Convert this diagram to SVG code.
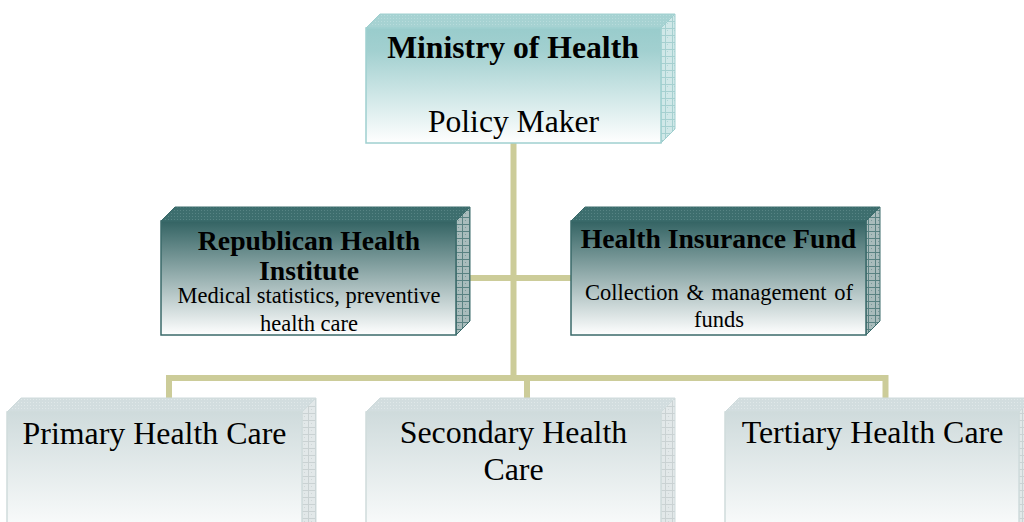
<svg xmlns="http://www.w3.org/2000/svg" width="1024" height="522" viewBox="0 0 1024 522">
  <style>
    text { font-family: "Liberation Serif", "Times New Roman", serif; fill: #000; text-anchor: middle; }
    .b { font-weight: bold; }
    .link { stroke: #cccc99; stroke-width: 6; fill: none; stroke-linecap: square; }
    .frontA { fill: url(#gradA); stroke: #9fcfcf; stroke-width: 1.5; }
    .topA { fill: url(#texA); stroke: #9fcfcf; stroke-width: 1; }
    .sideA { fill: url(#gridA); stroke: #9fcfcf; stroke-width: 1; }
    .frontB { fill: url(#gradB); stroke: #3a6a6a; stroke-width: 1.5; }
    .topB { fill: url(#texB); stroke: #3a6a6a; stroke-width: 1; }
    .sideB { fill: url(#gridB); stroke: #3a6a6a; stroke-width: 1; }
    .frontC { fill: url(#gradC); stroke: #cfdbdc; stroke-width: 1.5; }
    .topC { fill: url(#texC); stroke: #cfdbdc; stroke-width: 1; }
    .sideC { fill: url(#gridC); stroke: #cfdbdc; stroke-width: 1; }
  </style>
  <defs>
    <!-- front face shading: tint at the top fading to white -->
    <linearGradient id="gradA" x1="0" y1="0" x2="0" y2="1">
      <stop offset="0" stop-color="#99cccc"/>
      <stop offset="0.2" stop-color="#a2d0d0"/>
      <stop offset="1" stop-color="#ffffff"/>
    </linearGradient>
    <linearGradient id="gradB" x1="0" y1="0" x2="0" y2="1">
      <stop offset="0" stop-color="#336363"/>
      <stop offset="1" stop-color="#ffffff"/>
    </linearGradient>
    <linearGradient id="gradC" x1="0" y1="0" x2="0" y2="1">
      <stop offset="0" stop-color="#cfdbdc"/>
      <stop offset="0.8" stop-color="#f8fafa"/>
      <stop offset="1" stop-color="#ffffff"/>
    </linearGradient>
    <!-- fine speckle for the bevelled top faces -->
    <pattern id="texA" width="3" height="3" patternUnits="userSpaceOnUse">
      <rect width="3" height="3" fill="#a6d2d2"/>
      <rect width="1" height="1" fill="#b8dcdc"/>
    </pattern>
    <pattern id="texB" width="3" height="3" patternUnits="userSpaceOnUse">
      <rect width="3" height="3" fill="#3d6e6e"/>
      <rect width="1" height="1" fill="#578484"/>
    </pattern>
    <pattern id="texC" width="3" height="3" patternUnits="userSpaceOnUse">
      <rect width="3" height="3" fill="#d2dddf"/>
      <rect width="1" height="1" fill="#e0e8e9"/>
    </pattern>
    <!-- mesh on the side faces -->
    <pattern id="gridA" width="7" height="7" patternUnits="userSpaceOnUse">
      <rect width="7" height="7" fill="#d0e8e8"/>
      <rect x="2" y="2" width="1" height="1" fill="#b0d6d6"/>
      <path d="M0 0.5H7M0.5 0V7" stroke="#a6d0d0" stroke-width="1"/>
    </pattern>
    <pattern id="gridB" width="7" height="7" patternUnits="userSpaceOnUse">
      <rect width="7" height="7" fill="#a9bcbc"/>
      <rect x="3" y="3" width="1" height="1" fill="#7a9a9a"/>
      <path d="M0 0.5H7M0.5 0V7" stroke="#5a8282" stroke-width="1"/>
    </pattern>
    <pattern id="gridC" width="7" height="7" patternUnits="userSpaceOnUse">
      <rect width="7" height="7" fill="#e2e8e9"/>
      <rect x="3" y="3" width="1" height="1" fill="#cfd7d8"/>
      <path d="M0 0.5H7M0.5 0V7" stroke="#cad2d3" stroke-width="1"/>
    </pattern>
  </defs>

  <rect width="1024" height="522" fill="#ffffff"/>

  <!-- connectors -->
  <g id="connectors">
    <path class="link" d="M513.5 143V378"/>
    <path class="link" d="M470 278H571"/>
    <path class="link" d="M169 398V378H885.5V398"/>
    <path class="link" d="M527 378V398"/>
  </g>

  <!-- Ministry of Health -->
  <g id="ministry">
    <polygon class="topA" points="366,28 380,14 675,14 661,28"/>
    <polygon class="sideA" points="661,28 675,14 675,129 661,143"/>
    <rect class="frontA" x="366" y="28" width="295" height="115"/>
    <text class="b" x="513" y="58" font-size="31.7">Ministry of Health</text>
    <text x="513.5" y="132" font-size="32" textLength="171" lengthAdjust="spacingAndGlyphs">Policy Maker</text>
  </g>

  <!-- Republican Health Institute -->
  <g id="republican-institute">
    <polygon class="topB" points="161,221 175,207 470,207 456,221"/>
    <polygon class="sideB" points="456,221 470,207 470,321 456,335"/>
    <rect class="frontB" x="161" y="221" width="295" height="114"/>
    <text class="b" x="309" y="250" font-size="27.7">Republican Health</text>
    <text class="b" x="309" y="280" font-size="27.7">Institute</text>
    <text x="309" y="303" font-size="22.5">Medical statistics, preventive</text>
    <text x="309" y="331" font-size="22.5">health care</text>
  </g>

  <!-- Health Insurance Fund -->
  <g id="insurance-fund">
    <polygon class="topB" points="571,221 585,207 880,207 866,221"/>
    <polygon class="sideB" points="866,221 880,207 880,321 866,335"/>
    <rect class="frontB" x="571" y="221" width="295" height="114"/>
    <text class="b" x="718.5" y="248" font-size="27.7">Health Insurance Fund</text>
    <text x="719" y="300" font-size="22.5" word-spacing="2">Collection &amp; management of</text>
    <text x="719" y="327" font-size="22.5">funds</text>
  </g>

  <!-- Primary Health Care -->
  <g id="primary-care">
    <polygon class="topC" points="7,412 21,398 316,398 302,412"/>
    <polygon class="sideC" points="302,412 316,398 316,560 302,574"/>
    <rect class="frontC" x="7" y="412" width="295" height="140"/>
    <text x="154.5" y="444" font-size="31.9">Primary Health Care</text>
  </g>

  <!-- Secondary Health Care -->
  <g id="secondary-care">
    <polygon class="topC" points="366,412 380,398 675,398 661,412"/>
    <polygon class="sideC" points="661,412 675,398 675,560 661,574"/>
    <rect class="frontC" x="366" y="412" width="295" height="140"/>
    <text x="513.5" y="443" font-size="31.9">Secondary Health</text>
    <text x="513.5" y="480" font-size="31.9">Care</text>
  </g>

  <!-- Tertiary Health Care -->
  <g id="tertiary-care">
    <polygon class="topC" points="725,412 739,398 1034,398 1020,412"/>
    <polygon class="sideC" points="1019,412 1033,398 1033,560 1019,574"/>
    <rect class="frontC" x="725" y="412" width="294" height="140"/>
    <text x="872.5" y="443" font-size="31.9">Tertiary Health Care</text>
  </g>
</svg>
